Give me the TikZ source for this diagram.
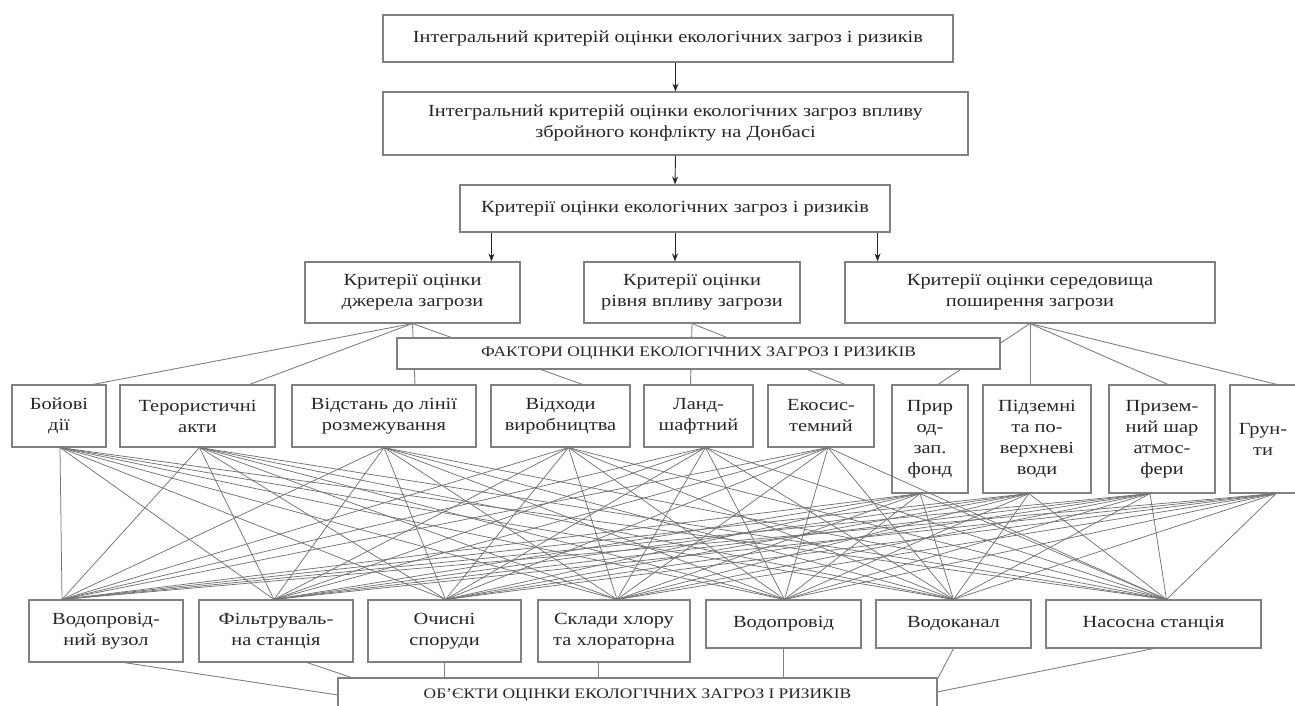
\documentclass[tikz,border=0pt]{standalone}
\usepackage{fontspec}
\setmainfont{Liberation Serif}[FakeStretch=1.2]
\usetikzlibrary{arrows.meta,calc}

\begin{document}
\begin{tikzpicture}[x=1pt,y=-1pt,
  box/.style={draw=black!50,line width=1.1pt,rectangle,fill=white,inner sep=0pt,align=center,text=black!85,font=\fontsize{17}{21}\selectfont},
  capsbox/.style={box,font=\fontsize{14.5}{16}\selectfont},
  link/.style={draw=black!50,line width=0.9pt},
  net/.style={draw=black!55,line width=0.75pt},
  arr/.style={-{Stealth[length=8pt,width=6pt]},line width=0.9pt,black!85}]
\useasboundingbox (0,0) rectangle (1295,706);
\clip (0,0) rectangle (1295,706);

\node[box,minimum width=570pt,minimum height=47pt] (crit) at (668,38.5) {Інтегральний критерій оцінки екологічних загроз і ризиків};
\node[box,minimum width=585pt,minimum height=63pt] (critD) at (675.5,123.5) {Інтегральний критерій оцінки екологічних загроз впливу\\збройного конфлікту на Донбасі};
\node[box,minimum width=430pt,minimum height=47pt] (critK) at (675,208.5) {Критерії оцінки екологічних загроз і ризиків};

\node[box,minimum width=215pt,minimum height=61pt] (srcA) at (412.5,292.5) {Критерії оцінки\\джерела загрози};
\node[box,minimum width=216pt,minimum height=61pt] (lvlB) at (692,292.5) {Критерії оцінки\\рівня впливу загрози};
\node[box,minimum width=370pt,minimum height=61pt] (envC) at (1030,292.5) {Критерії оцінки середовища\\поширення загрози};

\draw[arr] (crit.south -| critD.north) -- (critD.north);
\draw[arr] (critD.south) -- (critK.north);
\coordinate (kA) at ([xshift=32pt]critK.south west);
\coordinate (kC) at ([xshift=-13pt]critK.south east);
\draw[arr] (kA) -- (kA |- srcA.north);
\draw[arr] (critK.south) -- (critK.south |- lvlB.north);
\draw[arr] (kC) -- (kC |- envC.north);

\node[box,minimum width=94pt,minimum height=62pt] (f1) at (59,416) {Бойові\\дії};
\node[box,minimum width=155pt,minimum height=62pt] (f2) at (197.5,416) {Терористичні\\акти};
\node[box,minimum width=184pt,minimum height=62pt] (f3) at (384,416) {Відстань до лінії\\розмежування};
\node[box,minimum width=139pt,minimum height=62pt] (f4) at (560.5,416) {Відходи\\виробництва};
\node[box,minimum width=109pt,minimum height=62pt] (f5) at (698.5,416) {Ланд-\\шафтний};
\node[box,minimum width=106pt,minimum height=62pt] (f6) at (821,416) {Екосис-\\темний};
\node[box,minimum width=76pt,minimum height=108pt] (f7) at (930,439) {Прир\\од-\\зап.\\фонд};
\node[box,minimum width=108pt,minimum height=108pt] (f8) at (1037,439) {Підземні\\та по-\\верхневі\\води};
\node[box,minimum width=106pt,minimum height=108pt] (f9) at (1162,439) {Призем-\\ний шар\\атмос-\\фери};
\node[box,minimum width=66pt,minimum height=108pt] (f10) at (1263,439) {Грун-\\ти};

\foreach \f/\dx in {f1/34,f2/52,f3/31,f4/22}
  \draw[link] (srcA.south) -- ([xshift=\dx pt]\f.north);
\foreach \f/\dx in {f5/-8,f6/24}
  \draw[link] (lvlB.south) -- ([xshift=\dx pt]\f.north);
\foreach \f/\dx in {f7/8,f8/-7,f9/6,f10/14}
  \draw[link] (envC.south) -- ([xshift=\dx pt]\f.north);

\node[capsbox,minimum width=603pt,minimum height=31pt] (fact) at (698.5,353.5) {ФАКТОРИ ОЦІНКИ ЕКОЛОГІЧНИХ ЗАГРОЗ І РИЗИКІВ};

\node[box,minimum width=154pt,minimum height=62pt] (o1) at (106,631) {Водопровід-\\ний вузол};
\node[box,minimum width=154pt,minimum height=62pt] (o2) at (276,631) {Фільтруваль-\\на станція};
\node[box,minimum width=153pt,minimum height=62pt] (o3) at (444.5,631) {Очисні\\споруди};
\node[box,minimum width=152pt,minimum height=62pt] (o4) at (614,631) {Склади хлору\\та хлораторна};
\node[box,minimum width=155pt,minimum height=48pt] (o5) at (783.5,624) {Водопровід};
\node[box,minimum width=155pt,minimum height=48pt] (o6) at (953.5,624) {Водоканал};
\node[box,minimum width=215pt,minimum height=48pt] (o7) at (1153.5,624) {Насосна станція};

\foreach \f/\a in {f1/1,f2/2,f3/0,f4/8,f5/7,f6/7,f7/-10,f8/-8,f9/-12,f10/13}
  \foreach \o/\b in {o1/-44,o2/-2,o3/1,o4/3,o5/1,o6/0,o7/13}
    \draw[net] ([xshift=\a pt]\f.south) -- ([xshift=\b pt]\o.north);

\draw[link] ([xshift=18pt]o1.south) -- (338,695);
\draw[link] ([xshift=31pt]o2.south) -- (353,678);
\draw[link] (o3.south) -- (o3.south |- 0,678);
\draw[link] ([xshift=-16pt]o4.south) -- ([xshift=-16pt]o4.south |- 0,678);
\draw[link] (o5.south) -- (o5.south |- 0,678);
\draw[link] (o6.south) -- (938,678);
\draw[link] (o7.south) -- (937,692);

\node[capsbox,minimum width=599pt,minimum height=34pt] (obj) at (637.5,695) {ОБ'ЄКТИ ОЦІНКИ ЕКОЛОГІЧНИХ ЗАГРОЗ І РИЗИКІВ};
\end{tikzpicture}
\end{document}
